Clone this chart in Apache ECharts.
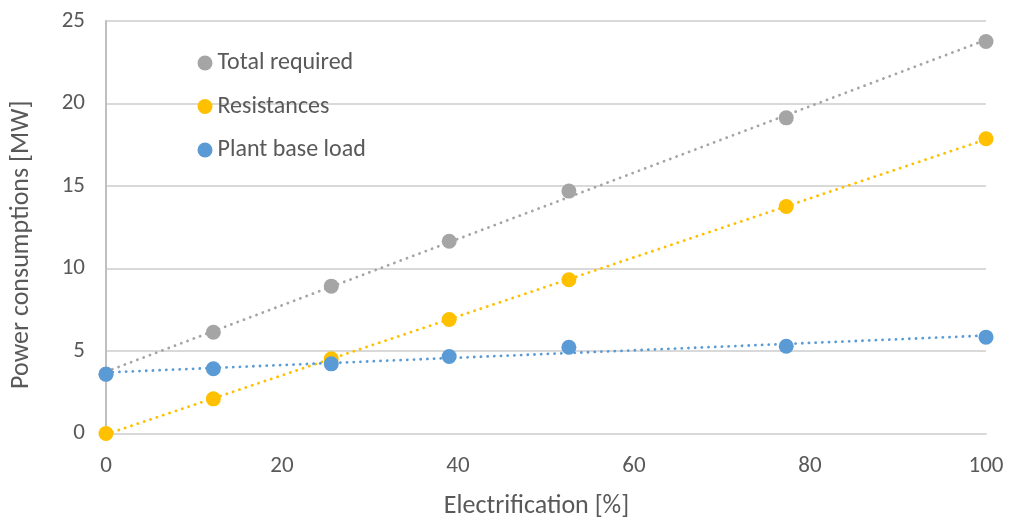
<!DOCTYPE html>
<html>
<head>
<meta charset="utf-8">
<script src="https://cdn.jsdelivr.net/npm/echarts@6/dist/echarts.min.js"></script>
<style>html,body{margin:0;padding:0;background:#fff}#c{width:1011px;height:527px}</style>
</head>
<body>
<div id="c"></div>
<script>
// Data
const electrification = [0, 12.2, 25.6, 39.0, 52.6, 77.3, 100];
const totalRequired   = [3.6, 6.14, 8.93, 11.65, 14.69, 19.13, 23.76];
const resistances     = [0, 2.10, 4.53, 6.91, 9.32, 13.76, 17.86];
const plantBaseLoad   = [3.59, 3.92, 4.22, 4.67, 5.23, 5.29, 5.84];
const seriesNames = ['Total required', 'Resistances', 'Plant base load'];
const xTicks = [0, 20, 40, 60, 80, 100];
const yTicks = [0, 5, 10, 15, 20, 25];

const colors = ['#A5A5A5', '#FFC000', '#5B9BD5'];
const font = "Carlito, 'Liberation Sans Narrow', 'Open Sans', sans-serif";

// Linear trendline (least squares) over the data range, like Excel's trendline
function trend(xs, ys) {
  const n = xs.length;
  let sx = 0, sy = 0, sxx = 0, sxy = 0;
  for (let i = 0; i < n; i++) { sx += xs[i]; sy += ys[i]; sxx += xs[i]*xs[i]; sxy += xs[i]*ys[i]; }
  const b = (n*sxy - sx*sy) / (n*sxx - sx*sx);
  const a = (sy - b*sx) / n;
  const x0 = Math.min(...xs), x1 = Math.max(...xs);
  return [[x0, a + b*x0], [x1, a + b*x1]];
}

const allY = [totalRequired, resistances, plantBaseLoad];
const series = [];
allY.forEach((ys, i) => {
  series.push({
    name: seriesNames[i] + ' trend',
    type: 'line',
    data: trend(electrification, ys),
    symbol: 'none',
    z: 1,
    silent: true,
    lineStyle: { color: colors[i], width: 2.8, type: [0.1, 6.6], cap: 'round' }
  });
});
allY.forEach((ys, i) => {
  series.push({
    name: seriesNames[i],
    type: 'scatter',
    data: electrification.map((x, j) => [x, ys[j]]),
    symbol: 'circle',
    symbolSize: 15,
    z: 3 + i,
    itemStyle: { color: colors[i], opacity: 1 }
  });
});

const chart = echarts.init(document.getElementById('c'), null, { renderer: 'canvas' });
chart.setOption({
  animation: false,
  backgroundColor: '#ffffff',
  textStyle: { fontFamily: font },
  grid: { left: 106, right: 25, top: 21, bottom: 93.5, containLabel: false, outerBoundsMode: 'none' },
  legend: {
    data: seriesNames,
    orient: 'vertical',
    left: 192.5,
    top: 46,
    itemWidth: 15,
    itemHeight: 15,
    itemGap: 19.5,
    icon: 'circle',
    textStyle: { color: '#595959', fontSize: 24, fontFamily: font }
  },
  xAxis: {
    type: 'value',
    min: xTicks[0],
    max: xTicks[xTicks.length - 1],
    interval: xTicks[1] - xTicks[0],
    name: 'Electrification [%]',
    nameLocation: 'middle',
    nameGap: 60,
    nameTextStyle: { color: '#595959', fontSize: 26, fontFamily: font, padding: [0, 19, 0, 0] },
    axisLine: { show: true, lineStyle: { color: '#D9D9D9', width: 2 } },
    axisTick: { show: false },
    splitLine: { show: false },
    axisLabel: { color: '#595959', fontSize: 23, margin: 21, fontFamily: font }
  },
  yAxis: {
    type: 'value',
    min: yTicks[0],
    max: yTicks[yTicks.length - 1],
    interval: yTicks[1] - yTicks[0],
    name: 'Power consumptions [MW]',
    nameLocation: 'middle',
    nameGap: 72,
    nameTextStyle: { color: '#595959', fontSize: 26, fontFamily: font, padding: [0, 35, 0, 0] },
    axisLine: { show: true, lineStyle: { color: '#BFBFBF', width: 2 } },
    axisTick: { show: false },
    splitLine: { show: true, lineStyle: { color: '#D9D9D9', width: 2 } },
    axisLabel: { color: '#595959', fontSize: 23, margin: 21, fontFamily: font }
  },
  series: series
});
</script>
</body>
</html>
